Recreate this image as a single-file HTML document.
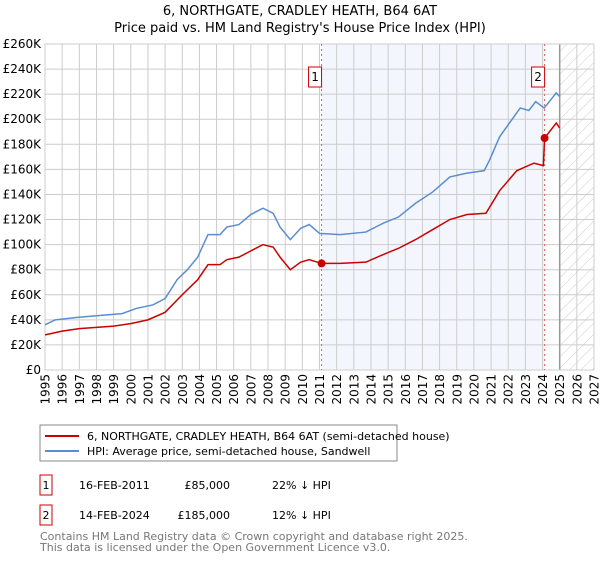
<!DOCTYPE html>
<html><head><meta charset="utf-8"><style>
body{margin:0;background:#fff;width:600px;height:560px;overflow:hidden;font-family:"DejaVu Sans","Liberation Sans",sans-serif;}
svg text{font-family:"DejaVu Sans","Liberation Sans",sans-serif;}
</style></head><body>
<svg id="chart" width="600" height="560">
<defs><pattern id="hatch" width="8" height="8" patternUnits="userSpaceOnUse" patternTransform="rotate(45)"><line x1="0" y1="0" x2="0" y2="8" stroke="#ccc" stroke-width="1"/></pattern></defs>
<text x="300" y="15" text-anchor="middle" font-size="13">6, NORTHGATE, CRADLEY HEATH, B64 6AT</text>
<text x="300" y="32" text-anchor="middle" font-size="13">Price paid vs. HM Land Registry's House Price Index (HPI)</text>
<g id="plot"></g>
<rect x="40" y="425" width="357" height="36" fill="#fff" stroke="#888"/>
<line x1="45" y1="436" x2="79" y2="436" stroke="#cc0000" stroke-width="2"/>
<text x="87" y="440" font-size="11">6, NORTHGATE, CRADLEY HEATH, B64 6AT (semi-detached house)</text>
<line x1="45" y1="451" x2="79" y2="451" stroke="#5b8dd0" stroke-width="2"/>
<text x="87" y="455" font-size="11">HPI: Average price, semi-detached house, Sandwell</text>
<g>
<rect x="40" y="475" width="12" height="20" fill="#fff" stroke="#cc0000"/><text x="46" y="489" font-size="11" text-anchor="middle">1</text>
<text x="79" y="489" font-size="11">16-FEB-2011</text><text x="230" y="489" font-size="11" text-anchor="end">£85,000</text><text x="272" y="489" font-size="11">22% ↓ HPI</text></g>
<g>
<rect x="40" y="505" width="12" height="20" fill="#fff" stroke="#cc0000"/><text x="46" y="519" font-size="11" text-anchor="middle">2</text>
<text x="79" y="519" font-size="11">14-FEB-2024</text><text x="230" y="519" font-size="11" text-anchor="end">£185,000</text><text x="272" y="519" font-size="11">12% ↓ HPI</text></g>
<text x="40" y="540" font-size="11" fill="#777">Contains HM Land Registry data © Crown copyright and database right 2025.</text>
<text x="40" y="551" font-size="11" fill="#777">This data is licensed under the Open Government Licence v3.0.</text>
</svg>
<script>
const hpiYears=[1995,1995.6,1996.9,1998.6,1999.5,2000.3,2001.3,2002,2002.7,2003.3,2003.9,2004.5,2005.2,2005.6,2006.3,2007,2007.7,2008.3,2008.7,2009.3,2009.9,2010.4,2011,2012.2,2013.7,2014.7,2015.6,2016.6,2017.6,2018.6,2019.6,2020.6,2020.9,2021.5,2022.7,2023.2,2023.6,2024.1,2024.8,2025];
const hpiValues=[36,40,42,44,45,49,52,57,72,80,90,108,108,114,116,124,129,125,114,104,113,116,109,108,110,117,122,133,142,154,157,159,167,186,209,207,214,209,221,218];
const propYears=[1995,1996,1997,1998,1999,2000,2001,2002,2003,2003.9,2004.5,2005.2,2005.6,2006.3,2007,2007.7,2008.3,2008.7,2009.3,2009.9,2010.4,2011.12,2012.2,2013.7,2014.7,2015.6,2016.6,2017.6,2018.6,2019.6,2020.7,2021.5,2022.5,2023.5,2024.05,2024.12,2024.8,2025];
const propValues=[28,31,33,34,35,37,40,46,60,72,84,84,88,90,95,100,98,90,80,86,88,85,85,86,92,97,104,112,120,124,125,143,159,165,163,185,197,193];
const saleYears=[2011.12,2024.12];
const saleValues=[85,185];
const saleLabels=["1","2"];
const yTicks=[0,20,40,60,80,100,120,140,160,180,200,220,240,260];
const xTicks=[1995,1996,1997,1998,1999,2000,2001,2002,2003,2004,2005,2006,2007,2008,2009,2010,2011,2012,2013,2014,2015,2016,2017,2018,2019,2020,2021,2022,2023,2024,2025,2026,2027];
const L=45,R=594,T=44,B=370;
const xs=y=>L+(y-1995)/(2027-1995)*(R-L);
const ys=v=>B-v/260*(B-T);
const NS="http://www.w3.org/2000/svg";
const g=document.getElementById('plot');
function mk(t,a){const e=document.createElementNS(NS,t);for(const k in a)e.setAttribute(k,a[k]);g.appendChild(e);return e;}
let e=mk('rect',{x:xs(2011.12),y:T,width:xs(2024.12)-xs(2011.12),height:B-T,fill:'#eef3fc',opacity:0.7});


e=mk('rect',{x:xs(2025),y:T,width:R-xs(2025),height:B-T,fill:'url(#hatch)'});


yTicks.forEach(v=>{const l=mk('line',{x1:L,x2:R,y1:ys(v),y2:ys(v),stroke:'#ccc'});


const t=mk('text',{x:L-4,y:ys(v)+4,'text-anchor':'end','font-size':12});t.textContent='£'+(v?v+'K':'0');

});
xTicks.forEach(y=>{const l=mk('line',{x1:xs(y),x2:xs(y),y1:T,y2:B,stroke:'#ccc'});


const t=mk('text',{x:0,y:0,'text-anchor':'end','font-size':12,transform:'translate('+(xs(y)+4.5)+',374) rotate(-90)'});t.textContent=y;

});
e=mk('line',{x1:xs(2025),x2:xs(2025),y1:T,y2:B,stroke:'#999','stroke-width':1.5});


e=mk('rect',{x:L,y:T,width:R-L,height:B-T,fill:'none',stroke:'#ccc'});


saleYears.forEach((y,i)=>{const l=mk('line',{x1:xs(y),x2:xs(y),y1:T,y2:B,stroke:'#e06060','stroke-dasharray':'2,3'});


const r=mk('rect',{x:xs(y)-13,y:67,width:13,height:20,fill:'#fff',stroke:'#cc0000'});


const t=mk('text',{x:xs(y)-6.5,y:81,'text-anchor':'middle','font-size':12});t.textContent=saleLabels[i];

});
e=mk('polyline',{points:hpiYears.map((y,i)=>xs(y)+','+ys(hpiValues[i])).join(' '),fill:'none',stroke:'#5b8dd0','stroke-width':1.5});


e=mk('polyline',{points:propYears.map((y,i)=>xs(y)+','+ys(propValues[i])).join(' '),fill:'none',stroke:'#cc0000','stroke-width':1.5});


saleYears.forEach((y,i)=>{const c=mk('circle',{cx:xs(y),cy:ys(saleValues[i]),r:4,fill:'#cc0000'});

});
</script>
</body></html>
